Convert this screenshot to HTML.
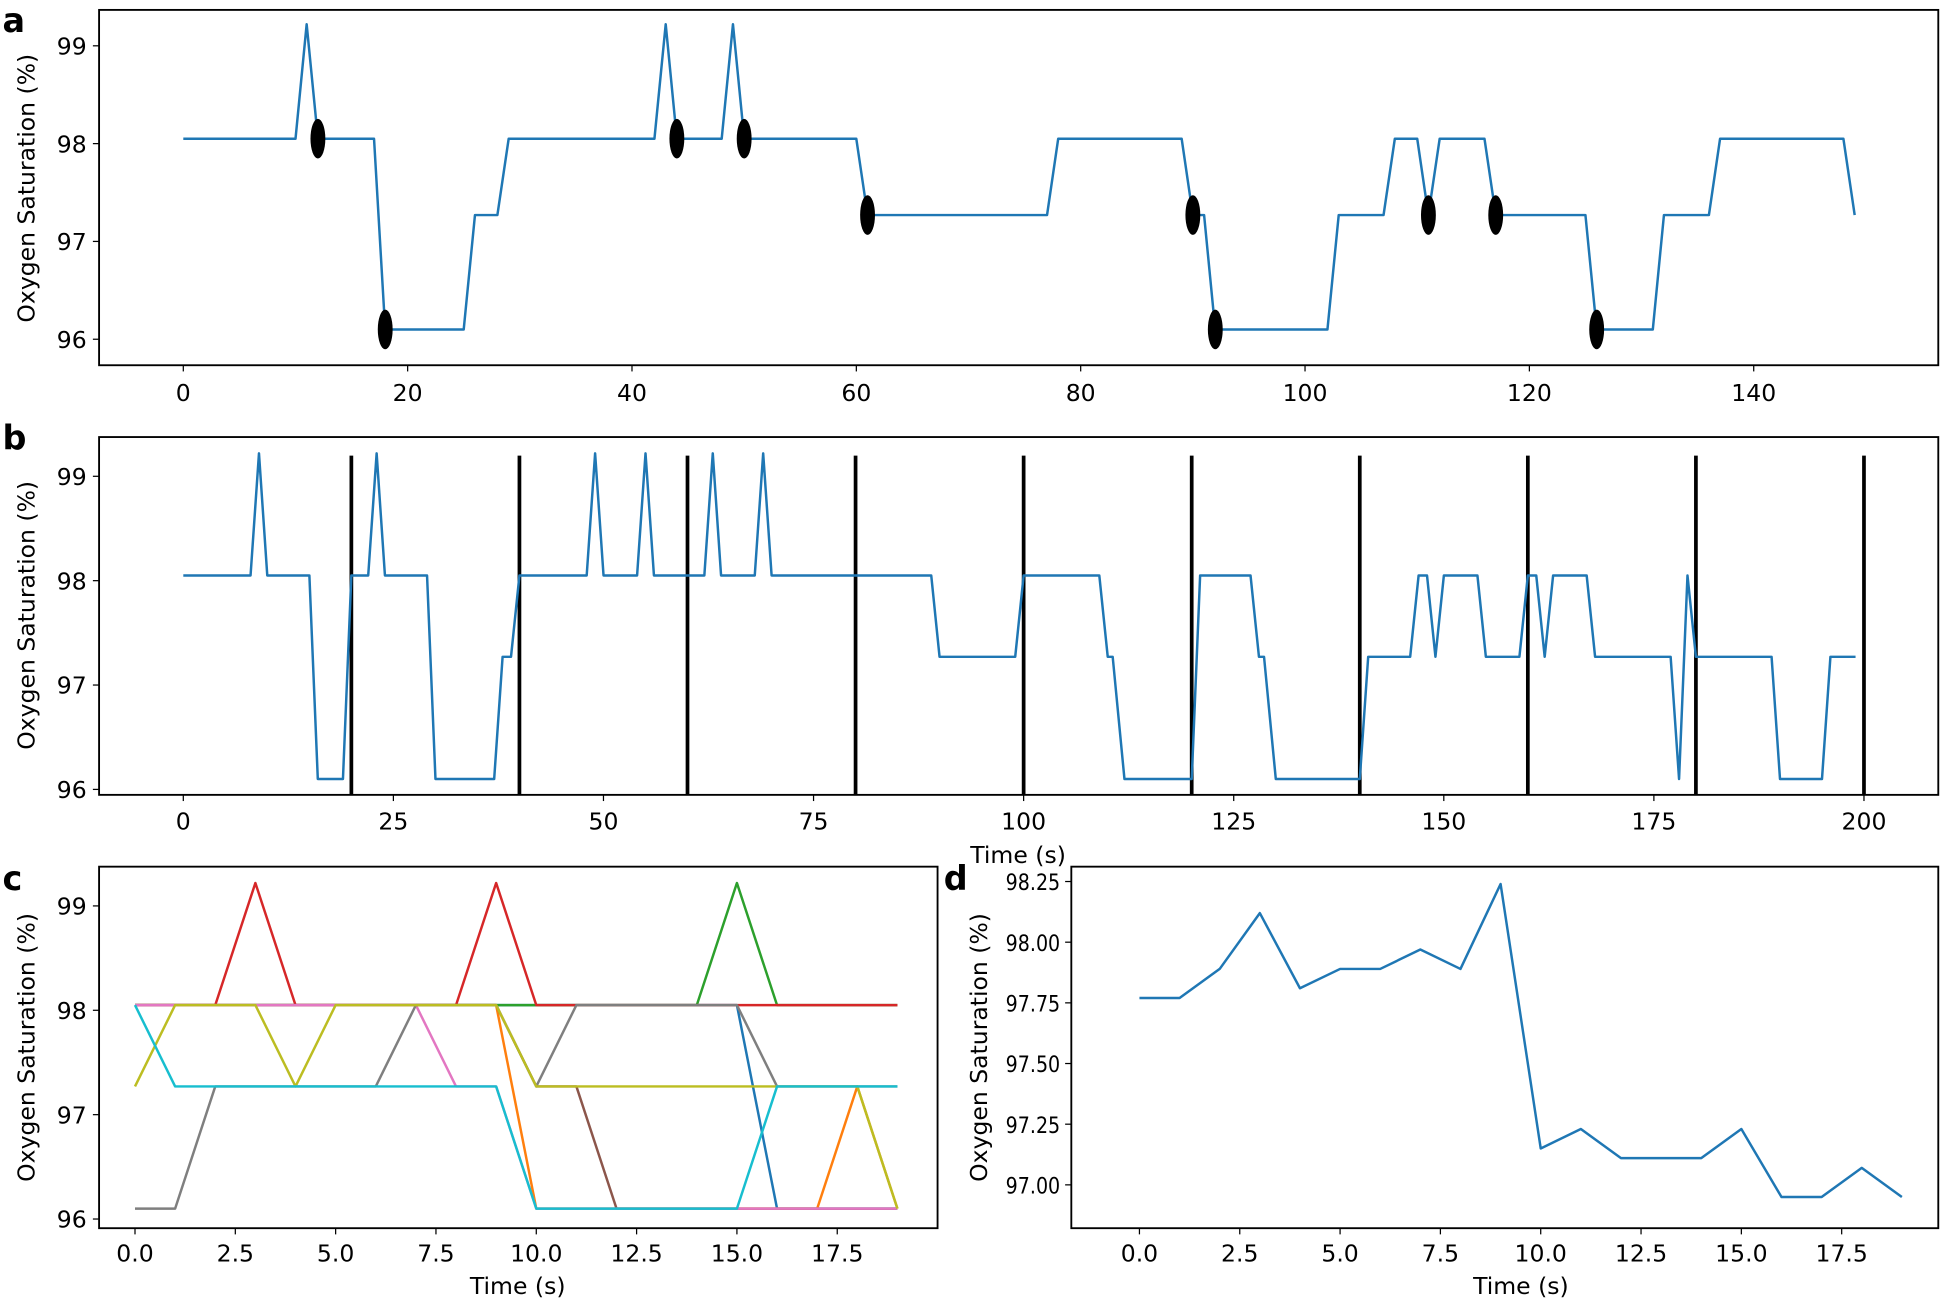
<!DOCTYPE html>
<html><head><meta charset="utf-8"><style>
html,body{margin:0;padding:0;background:#fff}
svg{display:block}
text{font-family:"DejaVu Sans","Liberation Sans",sans-serif;fill:#000}
</style></head><body>
<svg id="s" width="1942" height="1300" viewBox="0 0 1568 1050" preserveAspectRatio="none" xmlns="http://www.w3.org/2000/svg"></svg>
<script>
var s=document.getElementById('s'),out='';
function line(x1,y1,x2,y2,c,w){out+='<line x1="'+x1+'" y1="'+y1+'" x2="'+x2+'" y2="'+y2+'" stroke="'+c+'" stroke-width="'+w+'"/>';}
function txt(x,y,t,sz,anc,extra){out+='<text x="'+x+'" y="'+y+'" font-size="'+sz+'" text-anchor="'+(anc||'middle')+'" '+(extra||'')+'>'+t+'</text>';}
function poly(pts,fx,fy,c,w){out+='<polyline fill="none" stroke="'+c+'" stroke-width="'+(w||2)+'" stroke-linejoin="round" points="'+pts.map(function(p){return fx(p[0]).toFixed(1)+','+fy(p[1]).toFixed(1)}).join(' ')+'"/>';}
function box(x0,y0,x1,y1){out+='<rect x="'+x0+'" y="'+y0+'" width="'+(x1-x0)+'" height="'+(y1-y0)+'" fill="none" stroke="#000" stroke-width="1.5"/>';}
function ylab(x,y,t){txt(x,y,t,19,'middle','transform="rotate(-90 '+x+' '+y+')"');}
var H=98.05,P=99.22,M=97.27,L=96.1;
// Panel a
(function(){
var fx=function(t){return 148+t*9.057},fy=function(v){return 116-(v-98)*79};
var d=[[0,H],[10,H],[11,P],[12,H],[17,H],[18,L],[25,L],[26,M],[28,M],[29,H],[42,H],[43,P],[44,H],[48,H],[49,P],[50,H],[60,H],[61,M],[77,M],[78,H],[89,H],[90,M],[91,M],[92,L],[102,L],[103,M],[107,M],[108,H],[110,H],[111,M],[112,H],[116,H],[117,M],[125,M],[126,L],[131,L],[132,M],[136,M],[137,H],[148,H],[149,M]];
poly(d,fx,fy,'#1f77b4',2);
[[12,H],[18,L],[44,H],[50,H],[61,M],[90,M],[92,L],[111,M],[117,M],[126,L]].forEach(function(p){out+='<ellipse cx="'+fx(p[0])+'" cy="'+fy(p[1])+'" rx="6" ry="16" fill="#000"/>';});
box(80,8,1565,295);
for(var t=0;t<=140;t+=20){var x=fx(t);line(x,295,x,300,'#000',1);txt(x,324,t,19);}
[96,97,98,99].forEach(function(v){var y=fy(v);line(75,y,80,y,'#000',1);txt(70,y+7,v,19,'end');});
ylab(28,152,'Oxygen Saturation (%)');
txt(2,26,'a',27,'start','font-weight="bold"');
})();
// Panel b
(function(){
var fx=function(t){return 148+t*6.785},fy=function(v){return 469-(v-98)*84.3};
for(var t=20;t<=200;t+=20){line(fx(t),368,fx(t),642,'#000',3);}
var d=[[0,H],[8,H],[9,P],[10,H],[15,H],[16,L],[19,L],[20,H],[22,H],[23,P],[24,H],[29,H],[30,L],[37,L],[38,M],[39,M],[40,H],[48,H],[49,P],[50,H],[54,H],[55,P],[56,H],[62,H],[63,P],[64,H],[68,H],[69,P],[70,H],[89,H],[90,M],[99,M],[100,H],[109,H],[110,M],[110.6,M],[112,L],[120,L],[121,H],[127,H],[128,M],[128.6,M],[130,L],[140,L],[141,M],[146,M],[147,H],[148,H],[149,M],[150,H],[154,H],[155,M],[159,M],[160,H],[161,H],[162,M],[163,H],[167,H],[168,M],[177,M],[178,L],[179,H],[180,M],[189,M],[190,L],[195,L],[196,M],[199,M]];
poly(d,fx,fy,'#1f77b4',2);
box(80,353,1565,642);
for(var t=0;t<=200;t+=25){var x=fx(t);line(x,642,x,647,'#000',1);txt(x,670,t,19);}
[96,97,98,99].forEach(function(v){var y=fy(v);line(75,y,80,y,'#000',1);txt(70,y+7,v,19,'end');});
txt(822,697,'Time (s)',19);
ylab(28,497,'Oxygen Saturation (%)');
txt(2,363,'b',27,'start','font-weight="bold"');
})();
// Panel c
(function(){
var fx=function(t){return 109+t*32.4},fy=function(v){return 816-(v-98)*84.3};
var S={
'#1f77b4':[[0,H],[15,H],[16,L],[19,L]],
'#ff7f0e':[[0,H],[9,H],[10,L],[17,L],[18,M],[19,L]],
'#2ca02c':[[0,H],[14,H],[15,P],[16,H],[19,H]],
'#d62728':[[0,H],[2,H],[3,P],[4,H],[8,H],[9,P],[10,H],[19,H]],
'#8c564b':[[0,H],[9,H],[10,M],[11,M],[12,L],[19,L]],
'#e377c2':[[0,H],[7,H],[8,M],[9,M],[10,L],[19,L]],
'#7f7f7f':[[0,L],[1,L],[2,M],[6,M],[7,H],[9,H],[10,M],[11,H],[15,H],[16,M],[19,M]],
'#bcbd22':[[0,M],[1,H],[3,H],[4,M],[5,H],[9,H],[10,M],[18,M],[19,L]],
'#17becf':[[0,H],[1,M],[9,M],[10,L],[15,L],[16,M],[19,M]]};
for(var c in S)poly(S[c],fx,fy,c,2);
box(80,700,757,992);
for(var i=0;i<=7;i++){var t=i*2.5,x=fx(t);line(x,992,x,997,'#000',1);txt(x,1019,t.toFixed(1),19);}
[96,97,98,99].forEach(function(v){var y=fy(v);line(75,y,80,y,'#000',1);txt(70,y+7,v,19,'end');});
txt(418,1045,'Time (s)',19);
ylab(28,846,'Oxygen Saturation (%)');
txt(2,719,'c',27,'start','font-weight="bold"');
})();
// Panel d
(function(){
var fx=function(t){return 920+t*32.4},fy=function(v){return 957-(v-97)*196};
var v=[97.77,97.77,97.89,98.12,97.81,97.89,97.89,97.97,97.89,98.24,97.15,97.23,97.11,97.11,97.11,97.23,96.95,96.95,97.07,96.95];
poly(v.map(function(a,i){return[i,a]}),fx,fy,'#1f77b4',2);
box(865,700,1565,992);
for(var i=0;i<=7;i++){var t=i*2.5,x=fx(t);line(x,992,x,997,'#000',1);txt(x,1019,t.toFixed(1),19);}
[97,97.25,97.5,97.75,98,98.25].forEach(function(a){var y=fy(a);line(860,y,865,y,'#000',1);txt(856,y+7,a.toFixed(2),18,'end','textLength="44" lengthAdjust="spacingAndGlyphs"');});
txt(1228,1045,'Time (s)',19);
ylab(797,846,'Oxygen Saturation (%)');
txt(762,719,'d',27,'start','font-weight="bold"');
})();
s.innerHTML=out;
</script>
</body></html>
